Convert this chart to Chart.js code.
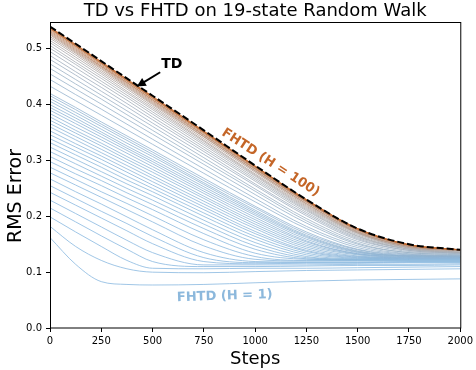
<!DOCTYPE html>
<html>
<head>
<meta charset="utf-8">
<script src="https://cdn.jsdelivr.net/npm/chart.js@4.4.0/dist/chart.umd.min.js"></script>
<style>
  html, body { margin: 0; padding: 0; background: #fff; }
  canvas { display: block; }
</style>
</head>
<body>
<canvas id="myChart" width="476" height="370"></canvas>
<script>

var steps = [0, 125, 250, 375, 500, 750, 1000, 1250, 1500, 1750, 2000];

// TD (dashed black)
var tdError = [0.540, 0.509, 0.478, 0.447, 0.416, 0.354, 0.291, 0.230, 0.178, 0.150, 0.140];

// FHTD horizons drawn, and the RMS error of each one at the steps above
var horizons = [1, 2, 3, 4, 5, 6, 7, 8, 9, 10, 11, 12, 13, 14, 15, 16, 17, 18, 19, 20,
  21, 22, 23, 24, 25, 26, 27, 28, 29, 30, 33, 36, 39, 42, 45, 48, 51, 54, 57, 60,
  63, 66, 69, 72, 75, 78, 81, 84, 87, 90, 93, 96, 99, 100];

var fhtdError = [
  [0.162, 0.114, 0.083, 0.078, 0.077, 0.078, 0.081, 0.084, 0.086, 0.087, 0.088],
  [0.182, 0.146, 0.121, 0.106, 0.100, 0.099, 0.101, 0.103, 0.104, 0.105, 0.106],
  [0.199, 0.172, 0.146, 0.121, 0.107, 0.106, 0.107, 0.107, 0.108, 0.109, 0.110],
  [0.215, 0.190, 0.165, 0.141, 0.119, 0.110, 0.110, 0.111, 0.112, 0.112, 0.113],
  [0.229, 0.205, 0.181, 0.157, 0.135, 0.113, 0.113, 0.113, 0.114, 0.114, 0.115],
  [0.243, 0.220, 0.197, 0.174, 0.151, 0.119, 0.115, 0.116, 0.116, 0.117, 0.117],
  [0.255, 0.232, 0.209, 0.187, 0.164, 0.126, 0.117, 0.117, 0.117, 0.118, 0.118],
  [0.267, 0.244, 0.222, 0.199, 0.176, 0.135, 0.119, 0.118, 0.118, 0.119, 0.119],
  [0.278, 0.256, 0.234, 0.212, 0.190, 0.147, 0.123, 0.120, 0.120, 0.120, 0.120],
  [0.288, 0.266, 0.244, 0.223, 0.201, 0.158, 0.128, 0.121, 0.121, 0.121, 0.121],
  [0.298, 0.276, 0.255, 0.233, 0.212, 0.169, 0.134, 0.123, 0.122, 0.122, 0.122],
  [0.307, 0.285, 0.264, 0.242, 0.221, 0.178, 0.141, 0.124, 0.122, 0.122, 0.122],
  [0.316, 0.294, 0.272, 0.250, 0.229, 0.186, 0.147, 0.126, 0.123, 0.123, 0.123],
  [0.324, 0.302, 0.280, 0.258, 0.237, 0.193, 0.153, 0.128, 0.123, 0.123, 0.123],
  [0.332, 0.310, 0.288, 0.265, 0.244, 0.200, 0.159, 0.131, 0.124, 0.124, 0.124],
  [0.339, 0.317, 0.295, 0.272, 0.250, 0.206, 0.164, 0.134, 0.125, 0.124, 0.124],
  [0.346, 0.324, 0.302, 0.279, 0.256, 0.212, 0.169, 0.137, 0.126, 0.125, 0.125],
  [0.353, 0.330, 0.308, 0.285, 0.262, 0.217, 0.173, 0.139, 0.127, 0.125, 0.125],
  [0.360, 0.337, 0.314, 0.291, 0.268, 0.222, 0.178, 0.142, 0.128, 0.126, 0.126],
  [0.366, 0.343, 0.320, 0.297, 0.273, 0.227, 0.182, 0.145, 0.129, 0.126, 0.126],
  [0.372, 0.349, 0.326, 0.302, 0.279, 0.232, 0.186, 0.148, 0.131, 0.127, 0.127],
  [0.378, 0.354, 0.331, 0.307, 0.284, 0.236, 0.190, 0.151, 0.132, 0.127, 0.127],
  [0.384, 0.360, 0.337, 0.313, 0.289, 0.241, 0.194, 0.154, 0.133, 0.128, 0.127],
  [0.390, 0.366, 0.342, 0.318, 0.294, 0.245, 0.198, 0.156, 0.133, 0.128, 0.127],
  [0.395, 0.371, 0.347, 0.322, 0.298, 0.249, 0.202, 0.159, 0.135, 0.129, 0.128],
  [0.400, 0.376, 0.351, 0.326, 0.302, 0.253, 0.205, 0.162, 0.136, 0.129, 0.128],
  [0.406, 0.381, 0.356, 0.331, 0.307, 0.257, 0.208, 0.164, 0.137, 0.129, 0.128],
  [0.411, 0.386, 0.361, 0.336, 0.311, 0.260, 0.211, 0.166, 0.138, 0.129, 0.128],
  [0.416, 0.391, 0.365, 0.340, 0.315, 0.264, 0.215, 0.169, 0.140, 0.130, 0.129],
  [0.420, 0.395, 0.369, 0.344, 0.319, 0.268, 0.218, 0.172, 0.141, 0.131, 0.129],
  [0.433, 0.407, 0.381, 0.355, 0.329, 0.277, 0.226, 0.178, 0.144, 0.132, 0.129],
  [0.445, 0.418, 0.392, 0.365, 0.338, 0.285, 0.232, 0.182, 0.147, 0.133, 0.130],
  [0.455, 0.428, 0.401, 0.374, 0.347, 0.293, 0.239, 0.188, 0.150, 0.135, 0.131],
  [0.465, 0.437, 0.410, 0.382, 0.354, 0.299, 0.245, 0.192, 0.152, 0.135, 0.132],
  [0.473, 0.445, 0.417, 0.389, 0.361, 0.305, 0.249, 0.196, 0.155, 0.137, 0.133],
  [0.481, 0.453, 0.424, 0.396, 0.367, 0.311, 0.255, 0.201, 0.158, 0.139, 0.134],
  [0.488, 0.459, 0.431, 0.402, 0.373, 0.316, 0.258, 0.204, 0.160, 0.139, 0.134],
  [0.495, 0.466, 0.437, 0.408, 0.378, 0.320, 0.263, 0.207, 0.162, 0.141, 0.135],
  [0.501, 0.472, 0.442, 0.413, 0.383, 0.324, 0.266, 0.210, 0.164, 0.141, 0.135],
  [0.506, 0.476, 0.447, 0.417, 0.387, 0.328, 0.269, 0.212, 0.165, 0.142, 0.136],
  [0.511, 0.481, 0.451, 0.421, 0.391, 0.331, 0.272, 0.214, 0.167, 0.143, 0.136],
  [0.515, 0.485, 0.455, 0.424, 0.394, 0.334, 0.274, 0.216, 0.169, 0.144, 0.138],
  [0.519, 0.489, 0.458, 0.428, 0.397, 0.336, 0.276, 0.218, 0.170, 0.144, 0.138],
  [0.522, 0.492, 0.461, 0.431, 0.400, 0.339, 0.279, 0.220, 0.171, 0.146, 0.139],
  [0.525, 0.494, 0.464, 0.433, 0.402, 0.342, 0.281, 0.222, 0.172, 0.146, 0.139],
  [0.527, 0.496, 0.466, 0.435, 0.404, 0.343, 0.282, 0.223, 0.173, 0.146, 0.139],
  [0.529, 0.498, 0.468, 0.437, 0.406, 0.345, 0.284, 0.225, 0.175, 0.148, 0.140],
  [0.531, 0.500, 0.469, 0.439, 0.408, 0.346, 0.285, 0.226, 0.175, 0.148, 0.140],
  [0.533, 0.502, 0.471, 0.440, 0.409, 0.348, 0.286, 0.227, 0.176, 0.148, 0.140],
  [0.535, 0.504, 0.473, 0.442, 0.411, 0.350, 0.288, 0.228, 0.177, 0.149, 0.140],
  [0.536, 0.505, 0.474, 0.443, 0.412, 0.350, 0.288, 0.228, 0.177, 0.149, 0.140],
  [0.537, 0.506, 0.475, 0.444, 0.413, 0.351, 0.289, 0.229, 0.178, 0.149, 0.140],
  [0.538, 0.507, 0.476, 0.445, 0.414, 0.352, 0.290, 0.230, 0.178, 0.149, 0.140],
  [0.539, 0.508, 0.477, 0.446, 0.415, 0.353, 0.290, 0.230, 0.178, 0.149, 0.140]
];

var xTicks = [0, 250, 500, 750, 1000, 1250, 1500, 1750, 2000];
var yTicks = [0.0, 0.1, 0.2, 0.3, 0.4, 0.5];

var FONT = '"DejaVu Sans", sans-serif';
var lowColor = [136, 184, 224];   // H = 1
var midColor = [172, 172, 176];
var highColor = [196, 102, 40];   // H = 100

function mix(c1, c2, t) {
  return c1.map(function (v, i) { return Math.round(v + (c2[i] - v) * t); });
}

function horizonColor(h) {
  var t = Math.pow((h - 1) / 99, 1.5);
  var c = t < 0.5 ? mix(lowColor, midColor, t * 2) : mix(midColor, highColor, t * 2 - 1);
  return 'rgb(' + c.join(',') + ')';
}

function points(vals) {
  return steps.map(function (s, i) { return {x: s, y: vals[i]}; });
}

var datasets = [{
  label: 'TD',
  data: points(tdError),
  borderColor: '#000',
  borderWidth: 2,
  borderDash: [7, 3],
  cubicInterpolationMode: 'monotone',
  order: 0
}];

for (var i = 0; i < horizons.length; i++) {
  datasets.push({
    label: 'FHTD H=' + horizons[i],
    data: points(fhtdError[i]),
    borderColor: horizonColor(horizons[i]),
    borderWidth: 0.8,
    cubicInterpolationMode: 'monotone',
    order: 200 - horizons[i]
  });
}

// frame, title, axis labels and the three annotations
var decor = {
  id: 'decor',
  afterDraw: function (chart) {
    var ctx = chart.ctx, a = chart.chartArea;
    var xs = chart.scales.x, ys = chart.scales.y;
    ctx.save();

    ctx.strokeStyle = '#000';
    ctx.lineWidth = 1;
    ctx.strokeRect(a.left + 0.5, a.top + 0.5, a.right - a.left, a.bottom - a.top - 0.5);

    ctx.fillStyle = '#000';
    ctx.textAlign = 'center';
    ctx.textBaseline = 'alphabetic';
    ctx.font = '18px ' + FONT;
    ctx.fillText('TD vs FHTD on 19-state Random Walk', (a.left + a.right) / 2, 16);
    ctx.fillText('Steps', (a.left + a.right) / 2, 364);

    ctx.save();
    ctx.translate(21, 196);
    ctx.rotate(-Math.PI / 2);
    ctx.font = '19px ' + FONT;
    ctx.fillText('RMS Error', 0, 0);
    ctx.restore();

    // TD label + arrow
    ctx.font = 'bold 14px ' + FONT;
    ctx.textBaseline = 'middle';
    ctx.fillText('TD', xs.getPixelForValue(594), ys.getPixelForValue(0.472));
    var tx = xs.getPixelForValue(423), ty = ys.getPixelForValue(0.4325);
    var fx = xs.getPixelForValue(537), fy = ys.getPixelForValue(0.458);
    var ang = Math.atan2(ty - fy, tx - fx);
    ctx.lineWidth = 2;
    ctx.beginPath();
    ctx.moveTo(fx, fy);
    ctx.lineTo(tx - 6 * Math.cos(ang), ty - 6 * Math.sin(ang));
    ctx.stroke();
    ctx.beginPath();
    ctx.moveTo(tx, ty);
    ctx.lineTo(tx - 9 * Math.cos(ang) + 4.5 * Math.sin(ang), ty - 9 * Math.sin(ang) - 4.5 * Math.cos(ang));
    ctx.lineTo(tx - 9 * Math.cos(ang) - 4.5 * Math.sin(ang), ty - 9 * Math.sin(ang) + 4.5 * Math.cos(ang));
    ctx.closePath();
    ctx.fill();

    ctx.font = 'bold 13px ' + FONT;
    ctx.save();
    ctx.translate(xs.getPixelForValue(1075), ys.getPixelForValue(0.296));
    ctx.rotate(33 * Math.PI / 180);
    ctx.fillStyle = 'rgb(196,102,40)';
    ctx.fillText('FHTD (H = 100)', 0, 0);
    ctx.restore();

    ctx.save();
    ctx.translate(xs.getPixelForValue(852), ys.getPixelForValue(0.057));
    ctx.rotate(-2 * Math.PI / 180);
    ctx.fillStyle = 'rgb(140,184,220)';
    ctx.fillText('FHTD (H = 1)', 0, 0);
    ctx.restore();

    ctx.restore();
  }
};

var ctx = document.getElementById('myChart').getContext('2d');

var chart = new Chart(ctx, {
  type: 'line',
  data: {datasets: datasets},
  plugins: [decor],
  options: {
    responsive: false,
    animation: false,
    devicePixelRatio: 1,
    layout: {padding: {top: 22, right: 15, left: 0, bottom: 0}},
    plugins: {legend: {display: false}, tooltip: {enabled: false}, title: {display: false}},
    elements: {point: {radius: 0}},
    scales: {
      x: {
        type: 'linear', min: 0, max: 2000,
        afterBuildTicks: function (s) { s.ticks = xTicks.map(function (v) { return {value: v}; }); },
        ticks: {font: {family: FONT, size: 10}, color: '#000', padding: 3, maxRotation: 0,
          callback: function (v) { return String(v); }},
        grid: {display: true, drawOnChartArea: false, tickLength: 4, tickColor: '#000'},
        border: {display: false},
        afterFit: function (s) { s.height = 42; }
      },
      y: {
        type: 'linear', min: 0, max: 0.548,
        afterBuildTicks: function (s) { s.ticks = yTicks.map(function (v) { return {value: v}; }); },
        ticks: {font: {family: FONT, size: 10}, color: '#000', padding: 4,
          callback: function (v) { return v.toFixed(1); }},
        grid: {display: true, drawOnChartArea: false, tickLength: 4, tickColor: '#000'},
        border: {display: false},
        afterFit: function (s) { s.width = 50; }
      }
    }
  }
});

</script>
</body>
</html>
